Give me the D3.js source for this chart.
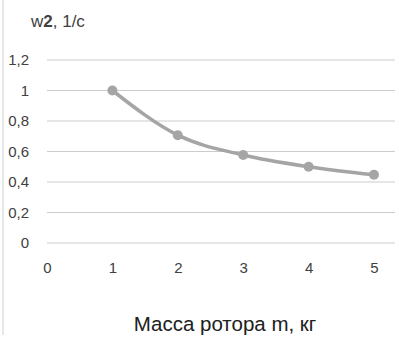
<!DOCTYPE html>
<html>
<head>
<meta charset="utf-8">
<script src="https://cdn.jsdelivr.net/npm/d3@7"></script>
<style>
  body { margin: 0; background: #fff; }
  svg { font-family: "Liberation Sans", Arial, sans-serif; }
</style>
</head>
<body>
<div id="chart"></div>
<script>
// data
const masses = [1, 2, 3, 4, 5];
const omega = [1, 0.707, 0.577, 0.5, 0.447];
const xTicks = [0, 1, 2, 3, 4, 5];
const yTicks = [0, 0.2, 0.4, 0.6, 0.8, 1, 1.2];

const W = 399, H = 339;

const svg = d3.select("#chart")
  .append("svg")
  .attr("width", W)
  .attr("height", H);

// scales
const xScale = d3.scaleLinear().domain([0, 5]).range([47, 374]);
const yScale = d3.scaleLinear().domain([0, 1.2]).range([243, 60]);
const fmt = d3.format(".1f");
const comma = v => v === 0 || v === 1 ? String(v) : fmt(v).replace(".", ",");

// left border line
svg.append("line")
  .attr("x1", 3).attr("x2", 3)
  .attr("y1", 0).attr("y2", 335)
  .attr("stroke", "#d0d0d0")
  .attr("stroke-width", 1);

// gridlines
svg.append("g")
  .selectAll("line")
  .data(yTicks)
  .join("line")
  .attr("x1", 47).attr("x2", 395)
  .attr("y1", d => yScale(d)).attr("y2", d => yScale(d))
  .attr("stroke", "#cccccc")
  .attr("stroke-width", 1);

// y axis labels
const yAxis = d3.axisLeft(yScale).tickValues(yTicks).tickFormat(comma).tickSize(0).tickPadding(0);
const gy = svg.append("g")
  .attr("transform", "translate(29,0)")
  .call(yAxis);
gy.select(".domain").remove();
gy.selectAll("text").attr("font-size", 15).attr("fill", "#404040")
  .attr("font-family", "Liberation Sans, Arial, sans-serif");

// x axis labels
const xAxis = d3.axisBottom(xScale).tickValues(xTicks).tickFormat(d => d).tickSize(0).tickPadding(0);
const gx = svg.append("g")
  .attr("transform", "translate(0,262)")
  .call(xAxis);
gx.select(".domain").remove();
gx.selectAll("text").attr("font-size", 15).attr("fill", "#404040")
  .attr("font-family", "Liberation Sans, Arial, sans-serif");

// line
const points = masses.map((m, i) => ({x: m, y: omega[i]}));
const line = d3.line()
  .x(d => xScale(d.x))
  .y(d => yScale(d.y))
  .curve(d3.curveMonotoneX);

svg.append("path")
  .datum(points)
  .attr("d", line)
  .attr("fill", "none")
  .attr("stroke", "#a5a5a5")
  .attr("stroke-width", 3.5);

svg.append("g")
  .selectAll("circle")
  .data(points)
  .join("circle")
  .attr("cx", d => xScale(d.x))
  .attr("cy", d => yScale(d.y))
  .attr("r", 5)
  .attr("fill", "#a5a5a5");

// title
const title = svg.append("text")
  .attr("x", 31)
  .attr("y", 27)
  .attr("font-size", 17)
  .attr("fill", "#404040");
title.append("tspan").text("w");
title.append("tspan").attr("font-weight", "bold").text("2");
title.append("tspan").text(", 1/c");

// x axis title
svg.append("text")
  .attr("x", 225)
  .attr("y", 331)
  .attr("text-anchor", "middle")
  .attr("font-size", 20.5)
  .attr("fill", "#202020")
  .text("Масса ротора m, кг");
</script>
</body>
</html>
